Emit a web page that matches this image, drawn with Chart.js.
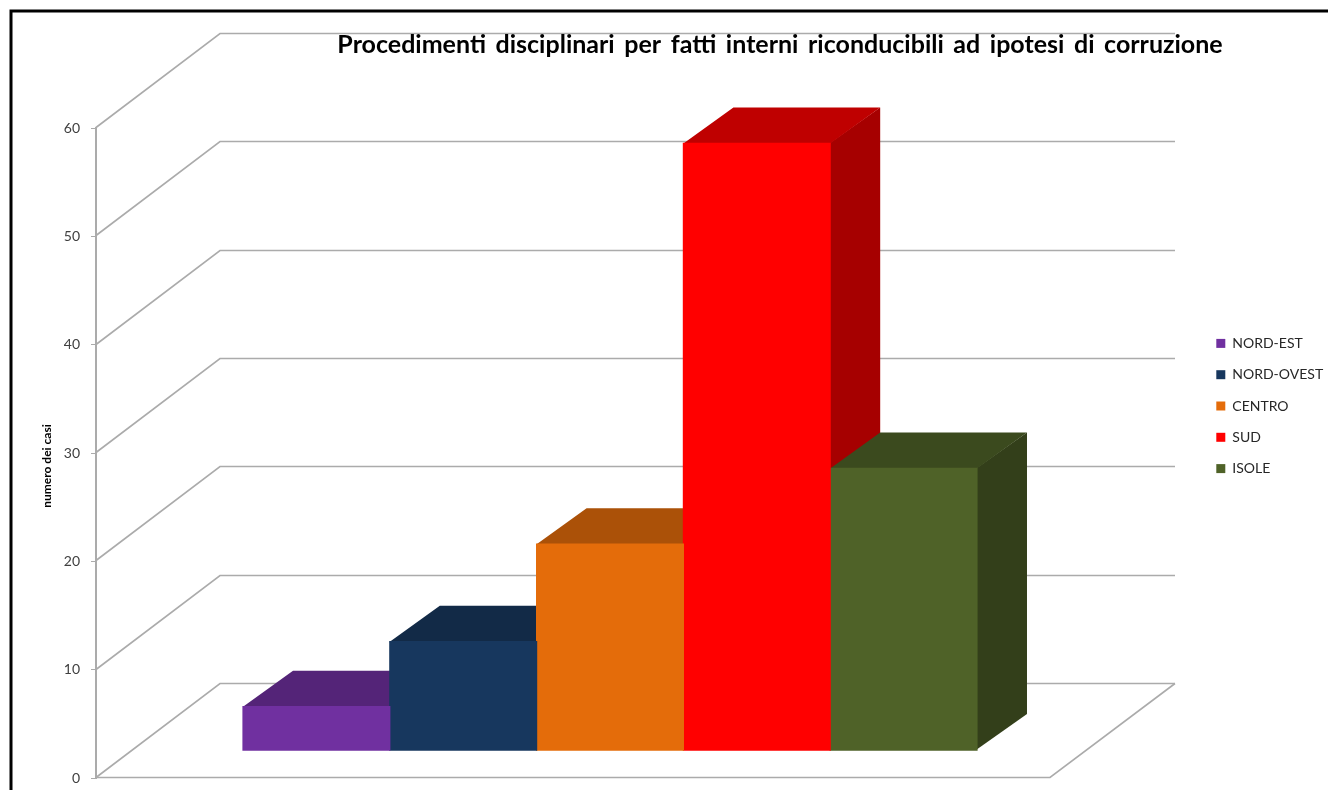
<!DOCTYPE html>
<html lang="it">
<head>
<meta charset="utf-8">
<title>Procedimenti disciplinari</title>
<script src="https://cdn.jsdelivr.net/npm/chart.js@4"></script>
<style>html,body{margin:0;padding:0;background:#fff}canvas{display:block}</style>
</head>
<body>
<canvas id="c" width="1328" height="790"></canvas>
<script>
const categories = ['Procedimenti'];
const regions = ['NORD-EST', 'NORD-OVEST', 'CENTRO', 'SUD', 'ISOLE'];
const values = [4, 10, 19, 56, 26];
const colors = ['#7030A0', '#17375E', '#E46C0A', '#FF0000', '#4F6228'];
const topColors = ['#542478', '#122A47', '#AB5108', '#BF0000', '#3B4A1E'];
const sideColors = ['#49206A', '#0F243E', '#964607', '#A60000', '#333F1A'];
const yTicks = [0, 10, 20, 30, 40, 50, 60];
const titleText = 'Procedimenti disciplinari per fatti interni riconducibili ad ipotesi di corruzione';
const yAxisTitle = 'numero dei casi';

const AREA_RIGHT = 1124, WALL_DX = 124, WALL_DY = 94, WALL_W = 955, BAR_DX = 50, BAR_DY = 36;
const GRID = '#ABABAB', FONT = 'Lato, "Open Sans", sans-serif';

function line(ctx, pts, color, w) {
  ctx.beginPath();
  pts.forEach((p, i) => i ? ctx.lineTo(p[0], p[1]) : ctx.moveTo(p[0], p[1]));
  ctx.strokeStyle = color; ctx.lineWidth = w; ctx.stroke();
}
function poly(ctx, pts, color) {
  ctx.beginPath();
  pts.forEach((p, i) => i ? ctx.lineTo(p[0], p[1]) : ctx.moveTo(p[0], p[1]));
  ctx.closePath(); ctx.fillStyle = color; ctx.fill();
}

const scene = {
  id: 'scene',
  afterLayout(chart) {
    const t = chart.titleBlock;
    t.left += 116; t.right += 116;
    const l = chart.legend, h = l.bottom - l.top;
    l.left = 1199; l.right = 1328;
    l.top = 405 - h / 2 + 1; l.bottom = l.top + h;
  },
  beforeDraw(chart) {
    const ctx = chart.ctx, y = chart.scales.y, a = chart.chartArea;
    ctx.save();
    ctx.fillStyle = '#fff'; ctx.fillRect(0, 0, chart.width, chart.height);
    line(ctx, [[11, chart.height], [11, 11], [chart.width, 11]], '#000', 3);
    ctx.lineCap = 'butt';
    yTicks.forEach(v => {
      const py = Math.round(y.getPixelForValue(v)) - 0.5;
      line(ctx, [[a.left, py], [a.left + WALL_DX, py - WALL_DY], [a.left + WALL_DX + WALL_W, py - WALL_DY]], GRID, 1.6);
    });
    const b = Math.round(y.getPixelForValue(0)) - 0.5;
    line(ctx, [[a.left, b], [a.left + WALL_W - 1, b], [a.left + WALL_DX + WALL_W, b - WALL_DY]], GRID, 1.6);
    ctx.restore();
    ctx.save();
    ctx.translate(47, (y.getPixelForValue(0) + y.getPixelForValue(60)) / 2 + 13);
    ctx.rotate(-Math.PI / 2);
    ctx.font = 'bold 12px ' + FONT;
    ctx.fillStyle = '#000'; ctx.textAlign = 'center'; ctx.textBaseline = 'middle';
    ctx.fillText(yAxisTitle, 0, 0);
    ctx.restore();
    ctx.wordSpacing = '3.5px';
  },
  beforeDatasetsDraw(chart) {
    const ctx = chart.ctx;
    ctx.wordSpacing = '0px';
    regions.forEach((r, i) => {
      const bar = chart.getDatasetMeta(i).data[0];
      const l = bar.x - bar.width / 2, rr = bar.x + bar.width / 2, t = bar.y, bs = bar.base;
      poly(ctx, [[rr - 1, t], [rr + BAR_DX, t - BAR_DY], [rr + BAR_DX, bs - BAR_DY], [rr - 1, bs]], sideColors[i]);
      poly(ctx, [[l, t + 1], [l, t], [l + BAR_DX, t - BAR_DY], [rr + BAR_DX, t - BAR_DY], [rr, t], [rr, t + 1]], topColors[i]);
    });
  }
};

new Chart(document.getElementById('c'), {
  type: 'bar',
  data: {
    labels: categories,
    datasets: regions.map((r, i) => ({
      label: r,
      data: [values[i]],
      backgroundColor: colors[i],
      borderWidth: 0,
      inflateAmount: 0.6,
      yAxisID: 'y2',
      barPercentage: 1,
      categoryPercentage: 0.714
    }))
  },
  plugins: [scene],
  options: {
    responsive: false,
    animation: false,
    layout: { padding: { top: 0, left: 0, right: 0, bottom: 12 } },
    events: [],
    plugins: {
      tooltip: { enabled: false },
      title: {
        display: true,
        text: titleText,
        color: '#000',
        font: { family: FONT, weight: 'bold', size: 25, lineHeight: 1.1 },
        padding: { top: 31, bottom: 128 - 31 - 27.5 }
      },
      legend: {
        position: 'right',
        labels: {
          boxWidth: 9, boxHeight: 9, padding: 17.3,
          color: '#262626',
          font: { family: FONT, size: 14 }
        }
      }
    },
    scales: {
      x: { display: false, afterFit(s) { s.height = 0; } },
      y: {
        position: 'left', min: 0, max: 60,
        afterFit(s) { s.width = 96; s.paddingTop = 0; s.paddingBottom = 0; },
        ticks: { stepSize: 10, padding: 11, color: '#404040', font: { family: FONT, size: 14 } },
        grid: { drawOnChartArea: false, drawTicks: true, tickLength: 5, color: GRID, lineWidth: 1 },
        border: { display: true, color: GRID, width: 2 }
      },
      y2: {
        position: 'right', min: -2.58, max: 57.42,
        afterFit(s) { s.width = s.chart.width - AREA_RIGHT - s.chart.legend.width; s.paddingTop = 0; s.paddingBottom = 0; },
        ticks: { display: false },
        grid: { display: false },
        border: { display: false }
      }
    }
  }
});
</script>
</body>
</html>
